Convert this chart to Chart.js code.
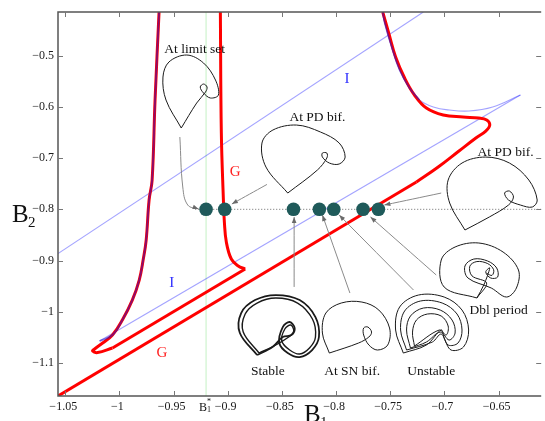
<!DOCTYPE html>
<html>
<head>
<meta charset="utf-8">
<script src="https://cdn.jsdelivr.net/npm/chart.js@4"></script>
<style>
  html, body { margin: 0; padding: 0; background: #fff; overflow: hidden; }
  #wrap { width: 548px; height: 421px; }
</style>
</head>
<body>
<div id="wrap"><canvas id="bifChart" width="548" height="421"></canvas></div>
<script>
// axes
const xTicks = [-1.05, -1, -0.95, -0.9, -0.85, -0.8, -0.75, -0.7, -0.65]
const yTicks = [-0.5, -0.6, -0.7, -0.8, -0.9, -1, -1.1]
const xRange = [-1.0567, -0.6106]
const yRange = [-1.1646, -0.4146]

// B1* and the orbits marked on B2 = -0.8
const bStar  = -0.9200
const dotB2  = -0.8
const dotB1  = [-0.9200, -0.9028, -0.8393, -0.8154, -0.8021, -0.7751, -0.7609]

// G curves (red)
const gLeftBranch = [[-0.9634,-0.4146],[-0.9671,-0.5865],[-0.9698,-0.7428],[-0.9726,-0.7818],[-0.9753,-0.8600],
  [-0.9781,-0.8990],[-0.9817,-0.9381],[-0.9881,-0.9772],[-0.9973,-1.0162],[-1.0064,-1.0455],[-1.0155,-1.0611],
  [-1.0229,-1.0728],[-1.0247,-1.0768],[-1.0201,-1.0797],[-1.0064,-1.0709]]
const gLeftEdge   = [[-1.0064,-1.0709],[-0.8839,-0.9166]]
const gLeftReturn = [[-0.8839,-0.9166],[-0.8903,-0.9107],[-0.8967,-0.8971],[-0.9013,-0.8639],[-0.9031,-0.8248],
  [-0.9040,-0.7818],[-0.9059,-0.6510],[-0.9068,-0.4146]]
const gRightBranch = [[-0.7569,-0.4146],[-0.7514,-0.4556],[-0.7450,-0.5025],[-0.7367,-0.5435],[-0.7276,-0.5768],
  [-0.7166,-0.6022],[-0.7011,-0.6158],[-0.6828,-0.6197],[-0.6682,-0.6217],[-0.6609,-0.6256],[-0.6581,-0.6354],
  [-0.6618,-0.6471],[-0.6709,-0.6608],[-0.6865,-0.6861],[-0.7057,-0.7174],[-0.7258,-0.7467]]
const gRightEdge = [[-0.7258,-0.7467],[-1.0567,-1.1646]]

// I curves (blue)
const iUpper = [[-1.0567,-0.8864],[-0.7194,-0.4146]]
const iLeftBranch = [[-0.9634,-0.4146],[-0.9671,-0.5865],[-0.9698,-0.7428],[-0.9726,-0.7818],[-0.9753,-0.8600],
  [-0.9781,-0.8990],[-0.9817,-0.9381],[-0.9881,-0.9772],[-0.9973,-1.0162],[-1.0064,-1.0455],[-1.0183,-1.0572]]
const iLower = [[-1.0183,-1.0572],[-0.6298,-0.5768]]
const iRightBranch = [[-0.6298,-0.5768],[-0.6554,-0.6002],[-0.6773,-0.6080],[-0.6956,-0.6061],[-0.7102,-0.6002],
  [-0.7230,-0.5865],[-0.7322,-0.5631],[-0.7413,-0.5279],[-0.7486,-0.4830],[-0.7550,-0.4361],[-0.7569,-0.4146]]

// orbit sketches
const orbitLimit = [[-0.9429,-0.6412],[-0.9570,-0.5865],[-0.9598,-0.5416],[-0.9543,-0.5123],[-0.9378,-0.4986],
  [-0.9223,-0.5143],[-0.9113,-0.5475],[-0.9086,-0.5768],[-0.9159,-0.5826],[-0.9223,-0.5729],[-0.9254,-0.5611],
  [-0.9223,-0.5553],[-0.9191,-0.5611],[-0.9205,-0.5709],[-0.9287,-0.5924],[-0.9429,-0.6412]]
const orbitPdMid = [[-0.8446,-0.7682],[-0.8647,-0.7174],[-0.8684,-0.6705],[-0.8583,-0.6451],[-0.8364,-0.6354],
  [-0.8144,-0.6490],[-0.7971,-0.6705],[-0.7916,-0.6979],[-0.7971,-0.7115],[-0.8062,-0.7096],[-0.8126,-0.6979],
  [-0.8126,-0.6901],[-0.8085,-0.6901],[-0.8085,-0.6998],[-0.8172,-0.7232],[-0.8446,-0.7682]]
const orbitPdRight = [[-0.6810,-0.8404],[-0.6951,-0.7877],[-0.6965,-0.7428],[-0.6837,-0.7096],[-0.6618,-0.6979],
  [-0.6399,-0.7096],[-0.6220,-0.7428],[-0.6143,-0.7818],[-0.6188,-0.7955],[-0.6298,-0.7916],[-0.6408,-0.7818],
  [-0.6444,-0.7682],[-0.6399,-0.7643],[-0.6362,-0.7760],[-0.6408,-0.7916],[-0.6585,-0.8150],[-0.6810,-0.8404]]
const orbitDbl = [[-0.6700,-0.9732],[-0.7002,-0.9518],[-0.7029,-0.8990],[-0.6901,-0.8736],[-0.6682,-0.8658],
  [-0.6458,-0.8834],[-0.6316,-0.9185],[-0.6335,-0.9537],[-0.6426,-0.9713],[-0.6567,-0.9537],[-0.6782,-0.9342],
  [-0.6810,-0.9107],[-0.6728,-0.8971],[-0.6600,-0.9010],[-0.6517,-0.9146],[-0.6508,-0.9322],[-0.6572,-0.9342],
  [-0.6618,-0.9224],[-0.6581,-0.9146],[-0.6636,-0.9478],[-0.6700,-0.9732]]
const orbitDblInner = [[-0.6700,-0.9732],[-0.6610,-0.9440],[-0.6745,-0.9300],[-0.6765,-0.9110],[-0.6700,-0.9020],
  [-0.6600,-0.9060],[-0.6545,-0.9180],[-0.6560,-0.9290],[-0.6610,-0.9250]]
const orbitStableA = [[-0.8729,-1.0846],[-0.8888,-1.0416],[-0.8876,-1.0025],[-0.8748,-0.9772],[-0.8556,-0.9674],
  [-0.8336,-0.9772],[-0.8190,-1.0104],[-0.8158,-1.0494],[-0.8221,-1.0748],[-0.8336,-1.0885],[-0.8446,-1.0807],
  [-0.8524,-1.0611],[-0.8492,-1.0299],[-0.8428,-1.0201],[-0.8382,-1.0318],[-0.8412,-1.0455],[-0.8492,-1.0494],
  [-0.8587,-1.0690],[-0.8729,-1.0846]]
const orbitStableB = [[-0.8711,-1.0807],[-0.8857,-1.0396],[-0.8839,-1.0045],[-0.8729,-0.9830],[-0.8556,-0.9733],
  [-0.8355,-0.9830],[-0.8218,-1.0143],[-0.8190,-1.0494],[-0.8245,-1.0709],[-0.8336,-1.0826],[-0.8428,-1.0748],
  [-0.8501,-1.0572],[-0.8473,-1.0338],[-0.8418,-1.0260],[-0.8391,-1.0377],[-0.8437,-1.0494],[-0.8574,-1.0670],
  [-0.8711,-1.0807]]
const orbitSn = [[-0.8062,-1.0807],[-0.8126,-1.0416],[-0.8094,-1.0025],[-0.7952,-0.9830],[-0.7761,-0.9811],
  [-0.7605,-0.9967],[-0.7506,-1.0318],[-0.7523,-1.0650],[-0.7618,-1.0748],[-0.7697,-1.0650],[-0.7745,-1.0455],
  [-0.7745,-1.0318],[-0.7706,-1.0299],[-0.7672,-1.0397],[-0.7697,-1.0494],[-0.7792,-1.0611],[-0.8062,-1.0807]]
const orbitUnstableA = [[-0.7379,-1.0807],[-0.7450,-1.0357],[-0.7413,-0.9908],[-0.7239,-0.9674],[-0.7002,-0.9713],
  [-0.6837,-0.9967],[-0.6776,-1.0357],[-0.6824,-1.0690],[-0.6938,-1.0748],[-0.7002,-1.0514],[-0.7029,-1.0357],
  [-0.7166,-1.0650],[-0.7379,-1.0807]]
const orbitUnstableB = [[-0.7349,-1.0748],[-0.7404,-1.0357],[-0.7367,-0.9986],[-0.7221,-0.9791],[-0.7020,-0.9830],
  [-0.6883,-1.0045],[-0.6837,-1.0357],[-0.6874,-1.0611],[-0.6965,-1.0650],[-0.7029,-1.0436],[-0.7111,-1.0592],
  [-0.7349,-1.0748]]
const orbitUnstableC = [[-0.7313,-1.0709],[-0.7349,-1.0357],[-0.7313,-1.0084],[-0.7194,-0.9928],[-0.7038,-0.9967],
  [-0.6929,-1.0162],[-0.6901,-1.0416],[-0.6956,-1.0553],[-0.7038,-1.0397],[-0.7166,-1.0592],[-0.7313,-1.0709]]
const orbitUnstableD = [[-0.7276,-1.0670],[-0.7294,-1.0397],[-0.7258,-1.0162],[-0.7157,-1.0045],[-0.7029,-1.0084],
  [-0.6965,-1.0279],[-0.6983,-1.0455],[-0.7047,-1.0357],[-0.7276,-1.0670]]

// pointers from the sketches to the dots
const arrowLimit    = [[-0.9442,-0.6588],[-0.9415,-0.7564],[-0.9369,-0.7916],[-0.9269,-0.7994]]
const arrowPdMid    = [[-0.8638,-0.7514],[-0.8962,-0.7896]]
const arrowPdRight  = [[-0.7029,-0.7682],[-0.7554,-0.7916]]
const arrowDbl      = [[-0.7075,-0.9283],[-0.7682,-0.8150]]
const arrowStable   = [[-0.8387,-0.9516],[-0.8387,-0.8150]]
const arrowSn       = [[-0.7872,-0.9635],[-0.8126,-0.8111]]
const arrowUnstable = [[-0.7285,-0.9576],[-0.7971,-0.8111]]
const arrows = [arrowLimit, arrowPdMid, arrowPdRight, arrowDbl, arrowStable, arrowSn, arrowUnstable]

const serif = '"Liberation Serif", "Times New Roman", serif'

// text notes: [text, B1, B2, colour, size]
const notes = [
  ['At limit set', -0.9305, -0.4869, '#111', 13.5],
  ['At PD bif.',   -0.8172, -0.6205, '#111', 13.5],
  ['At PD bif.',   -0.6435, -0.6889, '#111', 13.5],
  ['Dbl period',   -0.6499, -0.9967, '#111', 13.5],
  ['Stable',       -0.8629, -1.1158, '#111', 13.5],
  ['At SN bif.',   -0.7852, -1.1158, '#111', 13.5],
  ['Unstable',     -0.7121, -1.1158, '#111', 13.5],
  ['G',            -0.8931, -0.7272, '#ff2020', 15],
  ['G',            -0.9607, -1.0807, '#ff2020', 15],
  ['I',            -0.7898, -0.5455, '#3030ff', 15],
  ['I',            -0.9516, -0.9439, '#3030ff', 15]
]

const toXY = pts => pts.map(p => ({ x: p[0], y: p[1] }))

const curve = (pts, color, width, tension, order, dash) => ({
  data: toXY(pts),
  showLine: true,
  borderColor: color,
  borderWidth: width,
  borderDash: dash || [],
  tension: tension,
  pointRadius: 0,
  fill: false,
  order: order
})

const red    = '#ff0000'
const blue   = 'rgba(50, 50, 255, 0.45)'
const purple = 'rgba(40, 20, 200, 0.55)'
const ink    = '#1a1a1a'
const grey   = '#8a8a8a'

let datasets = [
  {
    data: dotB1.map(v => ({ x: v, y: dotB2 })),
    showLine: false,
    pointRadius: 6.8,
    pointBackgroundColor: '#1f5a5a',
    pointBorderWidth: 0,
    order: 0
  },
  curve(gLeftBranch,  red, 3, 0.4, 4),
  curve(gLeftEdge,    red, 3, 0,   4),
  curve(gLeftReturn,  red, 3, 0.4, 4),
  curve(gRightBranch, red, 3, 0.4, 4),
  curve(gRightEdge,   red, 3, 0,   4),
  curve(iLeftBranch,  purple, 1.8, 0.4, 3),
  curve(iRightBranch.slice(5), purple, 1.8, 0.4, 3),
  curve(iUpper,       blue, 1.1, 0, 5),
  curve(iLower,       blue, 1.1, 0, 5),
  curve(iRightBranch, blue, 1.1, 0.4, 5),
  curve([[bStar, yRange[0]], [bStar, yRange[1]]], 'rgba(120, 220, 120, 0.55)', 0.8, 0, 6),
  curve([[-0.93, dotB2], [xRange[1], dotB2]], '#444', 0.8, 0, 6, [1, 2])
]

const orbits = [orbitLimit, orbitPdMid, orbitPdRight, orbitDbl, orbitDblInner, orbitSn,
  orbitUnstableA, orbitUnstableB, orbitUnstableC, orbitUnstableD]
orbits.forEach(o => datasets.push(curve(o, ink, 1, 0.35, 2)))
datasets.push(curve(orbitStableA, ink, 1.8, 0.35, 2))
datasets.push(curve(orbitStableB, ink, 1.4, 0.35, 2))
arrows.forEach(a => datasets.push(curve(a, grey, 1, 0.4, 1)))

const decor = {
  id: 'decor',
  afterDraw(chart) {
    const ctx = chart.ctx
    const xs = chart.scales.x, ys = chart.scales.y
    const a = chart.chartArea

    // arrow heads
    ctx.save()
    ctx.fillStyle = '#6a6a6a'
    arrows.forEach(arr => {
      const n = arr.length
      const x1 = xs.getPixelForValue(arr[n - 2][0]), y1 = ys.getPixelForValue(arr[n - 2][1])
      const x2 = xs.getPixelForValue(arr[n - 1][0]), y2 = ys.getPixelForValue(arr[n - 1][1])
      const ang = Math.atan2(y2 - y1, x2 - x1)
      const L = 6, W = 2.3
      ctx.beginPath()
      ctx.moveTo(x2, y2)
      ctx.lineTo(x2 - L * Math.cos(ang) + W * Math.sin(ang), y2 - L * Math.sin(ang) - W * Math.cos(ang))
      ctx.lineTo(x2 - L * Math.cos(ang) - W * Math.sin(ang), y2 - L * Math.sin(ang) + W * Math.cos(ang))
      ctx.closePath()
      ctx.fill()
    })

    // notes
    ctx.textAlign = 'center'
    ctx.textBaseline = 'middle'
    notes.forEach(n => {
      ctx.fillStyle = n[3]
      ctx.font = n[4] + 'px ' + serif
      ctx.fillText(n[0], xs.getPixelForValue(n[1]), ys.getPixelForValue(n[2]))
    })

    // frame with inward ticks
    ctx.strokeStyle = '#555'
    ctx.lineWidth = 1.5
    ctx.beginPath()
    ctx.moveTo(a.right, a.top); ctx.lineTo(a.left, a.top); ctx.lineTo(a.left, a.bottom); ctx.lineTo(a.right, a.bottom)
    ctx.stroke()
    ctx.lineWidth = 1
    ctx.strokeStyle = '#777'
    ctx.beginPath()
    xTicks.forEach(v => {
      const x = Math.round(xs.getPixelForValue(v)) + 0.5
      ctx.moveTo(x, a.bottom); ctx.lineTo(x, a.bottom - 5)
      ctx.moveTo(x, a.top); ctx.lineTo(x, a.top + 5)
    })
    yTicks.forEach(v => {
      const y = Math.round(ys.getPixelForValue(v)) + 0.5
      ctx.moveTo(a.left, y); ctx.lineTo(a.left + 5, y)
      ctx.moveTo(a.right, y); ctx.lineTo(a.right - 5, y)
    })
    ctx.stroke()

    // tick labels
    ctx.fillStyle = '#1a1a1a'
    ctx.font = '12px ' + serif
    const fmt = v => String(v).replace('-', '\u2212')
    ctx.textAlign = 'center'
    xTicks.forEach(v => ctx.fillText(fmt(v), xs.getPixelForValue(v) - 2, a.bottom + 11))
    ctx.textAlign = 'right'
    yTicks.forEach(v => ctx.fillText(fmt(v), a.left - 4, ys.getPixelForValue(v)))

    // axis titles
    ctx.textAlign = 'left'
    ctx.textBaseline = 'alphabetic'
    ctx.fillStyle = '#111'
    ctx.font = '25px ' + serif
    ctx.fillText('B', 12, 222)
    ctx.fillText('B', 304, 422)
    ctx.font = '15px ' + serif
    ctx.fillText('2', 28, 227)
    ctx.fillText('1', 320, 427)

    // B1* mark under the green line
    const bx = xs.getPixelForValue(bStar)
    ctx.font = '12px ' + serif
    ctx.fillText('B', bx - 7, a.bottom + 15)
    ctx.font = '8px ' + serif
    ctx.fillText('*', bx + 1, a.bottom + 8)
    ctx.fillText('1', bx + 1, a.bottom + 16)
    ctx.restore()
  }
}

new Chart(document.getElementById('bifChart').getContext('2d'), {
  type: 'scatter',
  data: { datasets: datasets },
  options: {
    responsive: false,
    animation: false,
    events: [],
    layout: { padding: { left: 58, top: 12, right: 2, bottom: 25 } },
    scales: {
      x: { type: 'linear', min: xRange[0], max: xRange[1], display: false },
      y: { type: 'linear', min: yRange[0], max: yRange[1], display: false }
    },
    plugins: {
      legend: { display: false },
      tooltip: { enabled: false }
    }
  },
  plugins: [decor]
})
</script>
</body>
</html>
